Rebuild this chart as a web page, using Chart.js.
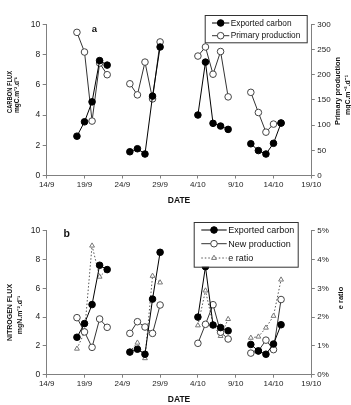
<!DOCTYPE html>
<html>
<head>
<meta charset="utf-8">
<script src="https://cdn.jsdelivr.net/npm/chart.js@4.4.0/dist/chart.umd.min.js"></script>
<style>
  body { margin: 0; background: #fff; width: 351px; height: 405px; overflow: hidden; }
  canvas { position: absolute; left: 0; }
  #ca { top: 0; }
  #cb { top: 206px; }
</style>
</head>
<body>
<canvas id="ca" width="351" height="206"></canvas>
<canvas id="cb" width="351" height="199"></canvas>
<script>
// dias contados a partir de 14/9 (dia 0)
const days = [4, 5, 6, 7, 8, 11, 12, 13, 14, 15, 20, 21, 22, 23, 24, 27, 28, 29, 30, 31];
const dateTicks = ['14/9', '19/9', '24/9', '29/9', '4/10', '9/10', '14/10', '19/10'];

// painel a
const exported = [2.6, 3.55, 4.87, 7.6, 7.3, 1.57, 1.77, 1.42, 5.25, 8.5, 4.0, 7.5, 3.45, 3.27, 3.05, 2.1, 1.65, 1.42, 2.13, 3.47];
const primaryProd = [284, 245, 108, 223, 200, 182, 160, 225, 152, 265, 237, 255, 201, 246, 156, 165, 125, 86, 102, 104];

// painel b
const newProd = [3.96, 2.97, 1.9, 3.87, 3.29, 2.87, 3.68, 3.31, 2.87, 4.84, 2.18, 3.5, 4.86, 2.95, 2.48, 1.5, 1.65, 2.4, 1.74, 5.22];
const eRatio = [0.9, 1.47, 4.48, 3.4, 3.65, 0.8, 1.11, 0.57, 3.43, 3.2, 1.71, 2.92, 1.75, 1.34, 1.93, 1.28, 1.32, 1.63, 2.04, 3.3];

const FONT = '"Liberation Sans", Arial, sans-serif';

// pontos {x,y}; um null entre campanhas para cortar a linha
function pts(vals) {
  const out = [];
  days.forEach((d, i) => {
    if (i > 0 && d - days[i - 1] > 1) out.push({ x: d - 0.5, y: null });
    out.push({ x: d, y: vals[i] });
  });
  return out;
}

const filled = { borderColor: '#000', pointBackgroundColor: '#000', pointBorderColor: '#000', pointStyle: 'circle', pointRadius: 3.3, pointBorderWidth: 1 };
const open = { borderColor: '#333', pointBackgroundColor: '#fff', pointBorderColor: '#444', pointStyle: 'circle', pointRadius: 3.3, pointBorderWidth: 1 };
const tri = { borderColor: '#555', borderDash: [1.5, 2], pointBackgroundColor: '#fff', pointBorderColor: '#777', pointStyle: 'triangle', pointRadius: 2.8, pointBorderWidth: 1 };

function serie(label, vals, style, axis) {
  return Object.assign({ label, data: pts(vals), yAxisID: axis, borderWidth: 1, spanGaps: false, tension: 0 }, style);
}

// letra, títulos laterais e legenda desenhados à mão
const decor = {
  id: 'decor',
  afterDraw(chart, args, o) {
    const ctx = chart.ctx;
    ctx.save();
    ctx.fillStyle = '#111';
    ctx.textAlign = 'center';
    ctx.textBaseline = 'middle';
    ctx.font = 'bold ' + o.letter.size + 'px ' + FONT;
    ctx.fillText(o.letter.text, o.letter.x, o.letter.y);

    o.side.forEach(t => {
      ctx.save();
      ctx.translate(t.x, t.y);
      ctx.rotate(-Math.PI / 2);
      ctx.font = 'bold ' + t.size + 'px ' + FONT;
      ctx.fillText(t.text, 0, 0, t.maxW);
      ctx.restore();
    });

    const L = o.legend;
    ctx.fillStyle = '#fff';
    ctx.fillRect(L.x, L.y, L.w, L.h);
    ctx.strokeStyle = '#333';
    ctx.lineWidth = 1;
    ctx.strokeRect(L.x + 0.5, L.y + 0.5, L.w, L.h);
    ctx.font = L.size + 'px ' + FONT;
    ctx.textAlign = 'left';
    chart.data.datasets.forEach((ds, i) => {
      const y = L.rows[i];
      ctx.strokeStyle = ds.borderColor;
      ctx.lineWidth = 1;
      ctx.setLineDash(ds.borderDash || []);
      ctx.beginPath();
      ctx.moveTo(L.s0, y);
      ctx.lineTo(L.s1, y);
      ctx.stroke();
      ctx.setLineDash([]);
      ctx.fillStyle = ds.pointBackgroundColor;
      ctx.strokeStyle = ds.pointBorderColor;
      Chart.helpers.drawPoint(ctx, { pointStyle: ds.pointStyle, radius: ds.pointRadius, borderWidth: ds.pointBorderWidth, rotation: 0 }, (L.s0 + L.s1) / 2, y);
      ctx.fillStyle = '#111';
      ctx.fillText(ds.label, L.tx, y + 0.5);
    });
    ctx.restore();
  }
};

function makeChart(id, datasets, right, xH, padTop, decorOpts) {
  return new Chart(document.getElementById(id), {
    type: 'line',
    data: { datasets },
    options: {
      responsive: false,
      devicePixelRatio: 1,
      animation: false,
      layout: { padding: { top: padTop, left: 0, right: 0, bottom: 0 } },
      plugins: { legend: { display: false }, tooltip: { enabled: false }, decor: decorOpts },
      scales: {
        x: {
          type: 'linear', min: 0, max: 35,
          afterFit: s => { s.height = xH; },
          afterBuildTicks: s => { s.ticks = dateTicks.map((t, i) => ({ value: i * 5 })); },
          ticks: { callback: v => dateTicks[v / 5], font: { size: 8, family: FONT }, color: '#222', padding: 1.5, maxRotation: 0 },
          grid: { drawOnChartArea: false, tickLength: 3, color: '#808080' },
          border: { color: '#808080' },
          title: { display: true, text: 'DATE', font: { size: 8.5, weight: 'bold', family: FONT }, color: '#111', padding: 0 }
        },
        y: {
          position: 'left', min: 0, max: 10,
          afterFit: s => { s.width = 46.7; },
          ticks: { stepSize: 2, font: { size: 8.5, family: FONT }, color: '#222', padding: 2.5 },
          grid: { drawOnChartArea: false, tickLength: 4, color: '#808080' },
          border: { color: '#808080' }
        },
        y2: Object.assign({
          position: 'right', min: 0,
          afterFit: s => { s.width = 39.7; },
          grid: { drawOnChartArea: false, tickLength: 3.5, color: '#808080' },
          border: { color: '#808080' }
        }, right)
      }
    },
    plugins: [decor]
  });
}

makeChart('ca', [
  serie('Exported carbon', exported, filled, 'y'),
  serie('Primary production', primaryProd, open, 'y2')
], {
  max: 300,
  ticks: { stepSize: 50, font: { size: 8, family: FONT }, color: '#222', padding: 2.5 }
}, 30.5, 24.3, {
  letter: { text: 'a', x: 94.3, y: 29.5, size: 9.5 },
  side: [
    { text: 'CARBON FLUX', x: 10, y: 92, size: 7, maxW: 42 },
    { text: 'mgC.m\u207B\u00B2.d\u207B\u00B9', x: 17.5, y: 95, size: 7, maxW: 36 },
    { text: 'Primary production', x: 337.5, y: 91, size: 7.4, maxW: 68 },
    { text: 'mgC.m\u207B\u00B2.d\u207B\u00B9', x: 348, y: 95, size: 7.4, maxW: 40 }
  ],
  legend: { x: 204.7, y: 15, w: 102, h: 27.3, rows: [23, 35.7], s0: 212, s1: 229.3, tx: 230.7, size: 8.3 }
});

makeChart('cb', [
  serie('Exported carbon', exported, filled, 'y'),
  serie('New production', newProd, open, 'y'),
  serie('e ratio', eRatio, tri, 'y2')
], {
  max: 5,
  ticks: { stepSize: 1, callback: v => v + '%', font: { size: 8, family: FONT }, color: '#222', padding: 2.5 }
}, 30.3, 24.7, {
  letter: { text: 'b', x: 66.7, y: 28.5, size: 10.5 },
  side: [
    { text: 'NITROGEN FLUX', x: 10, y: 106.5, size: 7, maxW: 58 },
    { text: 'mgN.m\u207B\u00B2.d\u207B\u00B9', x: 20, y: 109, size: 7, maxW: 50 },
    { text: 'e ratio', x: 340.5, y: 92, size: 7.5, maxW: 24 }
  ],
  legend: { x: 193.7 - 0, y: 16, w: 104, h: 44.7, rows: [24, 37.7, 52], s0: 201.3, s1: 226.7, tx: 228.3, size: 9 }
});
</script>
</body>
</html>
